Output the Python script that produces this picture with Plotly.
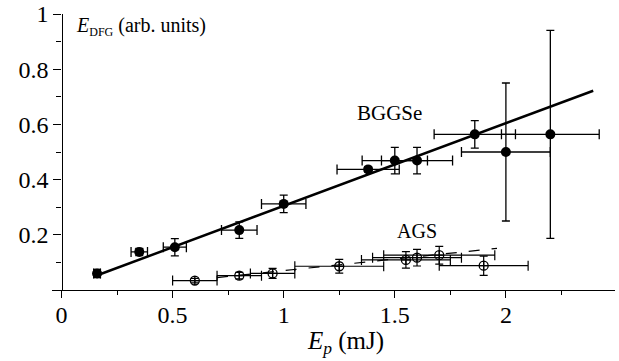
import plotly.graph_objects as go

# BGGSe data (filled circles)
bg_x = [0.16, 0.35, 0.51, 0.80, 1.00, 1.38, 1.50, 1.60, 1.86, 2.00, 2.20]
bg_y = [0.060, 0.138, 0.155, 0.217, 0.312, 0.437, 0.469, 0.469, 0.564, 0.500, 0.564]
bg_xerr = [0.015, 0.037, 0.052, 0.08, 0.10, 0.14, 0.147, 0.16, 0.183, 0.20, 0.22]
bg_yerr = [0.015, 0.013, 0.031, 0.03, 0.032, 0.01, 0.048, 0.048, 0.05, 0.25, 0.377]

# AGS data (open crossed circles)
ags_x = [0.60, 0.80, 0.95, 1.25, 1.55, 1.60, 1.70, 1.90]
ags_y = [0.034, 0.052, 0.060, 0.086, 0.109, 0.117, 0.126, 0.088]
ags_xerr = [0.10, 0.10, 0.10, 0.20, 0.20, 0.20, 0.25, 0.20]
ags_yerr = [0.008, 0.012, 0.018, 0.025, 0.03, 0.03, 0.032, 0.035]

# Fit lines (endpoints)
bg_fit_x = [0.143, 2.393]
bg_fit_y = [0.048, 0.722]
ags_fit_x = [0.70, 1.96]
ags_fit_y = [0.045, 0.151]

x_ticks = [0, 0.5, 1, 1.5, 2]
x_tick_labels = ["0", "0.5", "1", "1.5", "2"]
y_ticks = [0.2, 0.4, 0.6, 0.8, 1]
y_tick_labels = ["0.2", "0.4", "0.6", "0.8", "1"]

FONT = "Liberation Serif, Times New Roman, serif"

fig = go.Figure()

fig.add_trace(go.Scatter(x=bg_fit_x, y=bg_fit_y, mode="lines",
                         line=dict(color="black", width=2.5), showlegend=False))
fig.add_trace(go.Scatter(x=ags_fit_x, y=ags_fit_y, mode="lines",
                         line=dict(color="black", width=1.2, dash="11px,12px"), showlegend=False))

fig.add_trace(go.Scatter(
    x=bg_x, y=bg_y, mode="markers",
    marker=dict(symbol="circle", size=10, color="black"),
    error_x=dict(type="data", array=bg_xerr, color="black", thickness=1.3, width=5),
    error_y=dict(type="data", array=bg_yerr, color="black", thickness=1.3, width=4),
    showlegend=False))

fig.add_trace(go.Scatter(
    x=ags_x, y=ags_y, mode="markers",
    marker=dict(symbol="circle-cross-open", size=9, color="black", line=dict(width=1.3)),
    error_x=dict(type="data", array=ags_xerr, color="black", thickness=1.2, width=5),
    error_y=dict(type="data", array=ags_yerr, color="black", thickness=1.2, width=4),
    showlegend=False))

fig.add_annotation(x=1.478, y=0.641, xref="x", yref="y", text="BGGSe", showarrow=False,
                   font=dict(family=FONT, size=21, color="black"))
fig.add_annotation(x=1.598, y=0.214, xref="x", yref="y", text="AGS", showarrow=False,
                   font=dict(family=FONT, size=20, color="black"))
fig.add_annotation(x=0.039, y=0.953, xref="paper", yref="paper", xanchor="left", yanchor="middle",
                   text="<i>E</i><sub><span style='font-size:12px'>DFG</span></sub> (arb. units)",
                   showarrow=False, font=dict(family=FONT, size=20, color="black"))
fig.add_annotation(x=0.522, y=-0.192, xref="paper", yref="paper", xanchor="center", yanchor="middle",
                   text="<i>E</i><sub><i>p</i></sub> (mJ)",
                   showarrow=False, font=dict(family=FONT, size=25, color="black"))

fig.update_layout(
    width=619, height=361,
    margin=dict(l=52, r=4, t=14, b=71),
    plot_bgcolor="white", paper_bgcolor="white",
    font=dict(family=FONT, size=22, color="black"),
    xaxis=dict(range=[-0.0428, 2.491], showgrid=False, zeroline=False, automargin=False,
               showline=True, linecolor="black", linewidth=1.3,
               tickmode="array", tickvals=x_ticks, ticktext=x_tick_labels,
               ticks="outside", ticklen=7, tickwidth=1.3, tickcolor="black",
               ticklabelstandoff=-4,
               minor=dict(ticks="outside", ticklen=4, tickwidth=1.3, tickcolor="black",
                          tickmode="array", tickvals=[0.25, 0.75, 1.25, 1.75, 2.25]),
               tickfont=dict(family=FONT, size=24, color="black")),
    yaxis=dict(range=[0, 1], showgrid=False, zeroline=False, automargin=False,
               anchor="free", position=0.0169, ticklabeloverflow="allow",
               showline=True, linecolor="black", linewidth=1.3,
               tickmode="array", tickvals=y_ticks, ticktext=y_tick_labels,
               ticks="outside", ticklen=8, tickwidth=1.3, tickcolor="black",
               minor=dict(ticks="outside", ticklen=5, tickwidth=1.3, tickcolor="black",
                          tickmode="array", tickvals=[0.1, 0.3, 0.5, 0.7, 0.9]),
               tickfont=dict(family=FONT, size=24, color="black")),
)

fig.write_html("out.html", config={"displayModeBar": False},
               post_script="document.body.style.margin='0';")
